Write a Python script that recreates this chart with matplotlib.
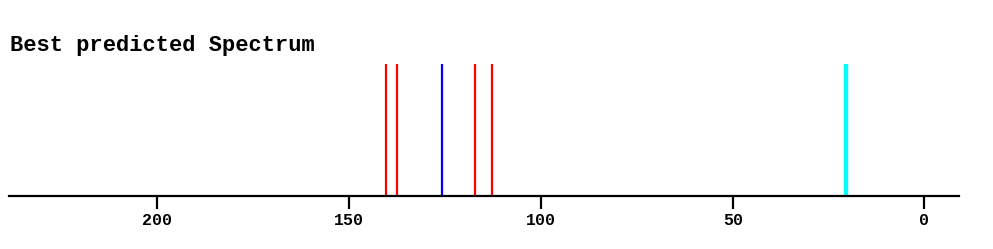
import matplotlib
matplotlib.use("Agg")
import matplotlib.pyplot as plt

# Data
red_peaks = [140.4, 137.5, 117.2, 112.8]
blue_peaks = [125.8]
cyan_peaks = [20.5]
intensity = 1.0
tick_values = [200, 150, 100, 50, 0]
title = "Best predicted Spectrum"

W, H = 993, 249
fig = plt.figure(figsize=(W / 100, H / 100), dpi=100)
left, right = 9, 959
bottom_y, top_y = 196, 64
ax = fig.add_axes([left / W, (H - bottom_y) / H, (right - left) / W, (bottom_y - top_y) / H])

ax.vlines(red_peaks, 0, intensity, colors="#ff0000", linewidth=1.6)
ax.vlines(blue_peaks, 0, intensity, colors="#0000ff", linewidth=1.6)
ax.vlines(cyan_peaks, 0, intensity, colors="#00ffff", linewidth=3.2)

ax.set_xlim(238.7, -9.0)
ax.set_ylim(0, 1)
for s in ["top", "left", "right"]:
    ax.spines[s].set_visible(False)
ax.spines["bottom"].set_linewidth(1.6)
ax.spines["bottom"].set_color("black")
ax.set_yticks([])
ax.set_xticks(tick_values)
ax.set_xticklabels([str(v) for v in tick_values],
                   fontfamily="Liberation Mono", fontweight="bold", fontsize=12)
ax.tick_params(axis="x", length=9.5, width=1.6, pad=3.0, color="black")
ax.patch.set_visible(False)

fig.text(10 / W, 1 - 45 / H, title, fontfamily="Liberation Mono", fontweight="bold",
         fontsize=15.8, va="center", ha="left")

fig.savefig("out.png", dpi=100)
